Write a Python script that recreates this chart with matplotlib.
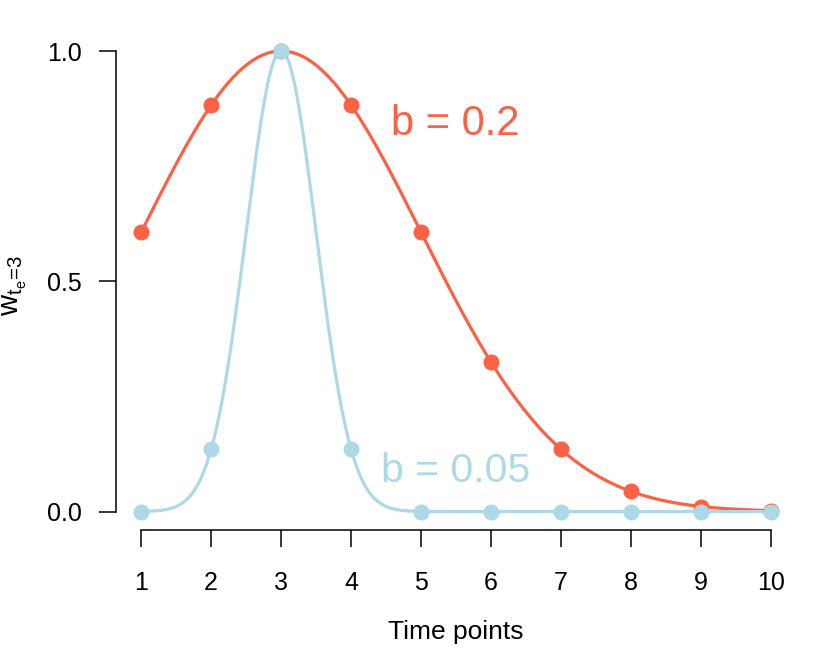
import numpy as np
import matplotlib
matplotlib.use("Agg")
import matplotlib.pyplot as plt

plt.rcParams['font.family'] = ['Liberation Sans', 'DejaVu Sans']
plt.rcParams['mathtext.fontset'] = 'custom'
plt.rcParams['mathtext.rm'] = 'Liberation Sans'
plt.rcParams['mathtext.it'] = 'Liberation Sans'

# time points and weights (centre te = 3)
time_points = [1, 2, 3, 4, 5, 6, 7, 8, 9, 10]
w_b02 = [0.607, 0.882, 1.0, 0.882, 0.607, 0.325, 0.135, 0.044, 0.011, 0.002]
w_b005 = [0.0, 0.135, 1.0, 0.135, 0.0, 0.0, 0.0, 0.0, 0.0, 0.0]
bandwidths = [0.2, 0.05]
te = 3
step = 0.1  # spacing of time points on the kernel scale

red = '#FA6145'
blue = '#ADD8E6'

fig = plt.figure(figsize=(8.3, 6.64), dpi=100)
ax = fig.add_axes([116 / 830, 1 - 530 / 664, (796 - 116) / 830, (530 - 32.6) / 664])

# smooth gaussian kernel curves
t = np.linspace(1, 10, 400)
for b, col, pts in [(bandwidths[0], red, w_b02), (bandwidths[1], blue, w_b005)]:
    curve = np.exp(-((t - te) * step) ** 2 / (2 * b ** 2))
    ax.plot(t, curve, color=col, lw=2.3, zorder=2)
    ax.plot(time_points, pts, 'o', color=col, ms=10.5, zorder=3)

ax.text(5.49, 0.818, 'b = 0.2', color=red, fontsize=30, ha='center', va='baseline')
ax.text(5.49, 0.065, 'b = 0.05', color=blue, fontsize=29.5, ha='center', va='baseline')

ax.set_xlim(0.64, 10.36)
ax.set_ylim(-0.04, 1.04)
ax.set_xticks(time_points)
ax.set_yticks([0, 0.5, 1.0])
ax.set_yticklabels(['0.0', '0.5', '1.0'])
for s in ['top', 'right']:
    ax.spines[s].set_visible(False)
ax.spines['left'].set_bounds(0, 1)
ax.spines['bottom'].set_bounds(1, 10)
ax.tick_params(axis='both', direction='out', length=12.5, width=1.1, labelsize=18)
ax.tick_params(axis='x', pad=17)
ax.tick_params(axis='y', pad=12)
for s in ['left', 'bottom']:
    ax.spines[s].set_linewidth(1.1)

fig.text(456 / 830, 1 - 632 / 664, 'Time points', fontsize=19, ha='center', va='center')
fig.text(15 / 830, 1 - 285 / 664, r'$\mathregular{w_{t_e\!=\!3}}$', fontsize=21,
         rotation=90, ha='center', va='center')

plt.savefig('out.png', dpi=100)
